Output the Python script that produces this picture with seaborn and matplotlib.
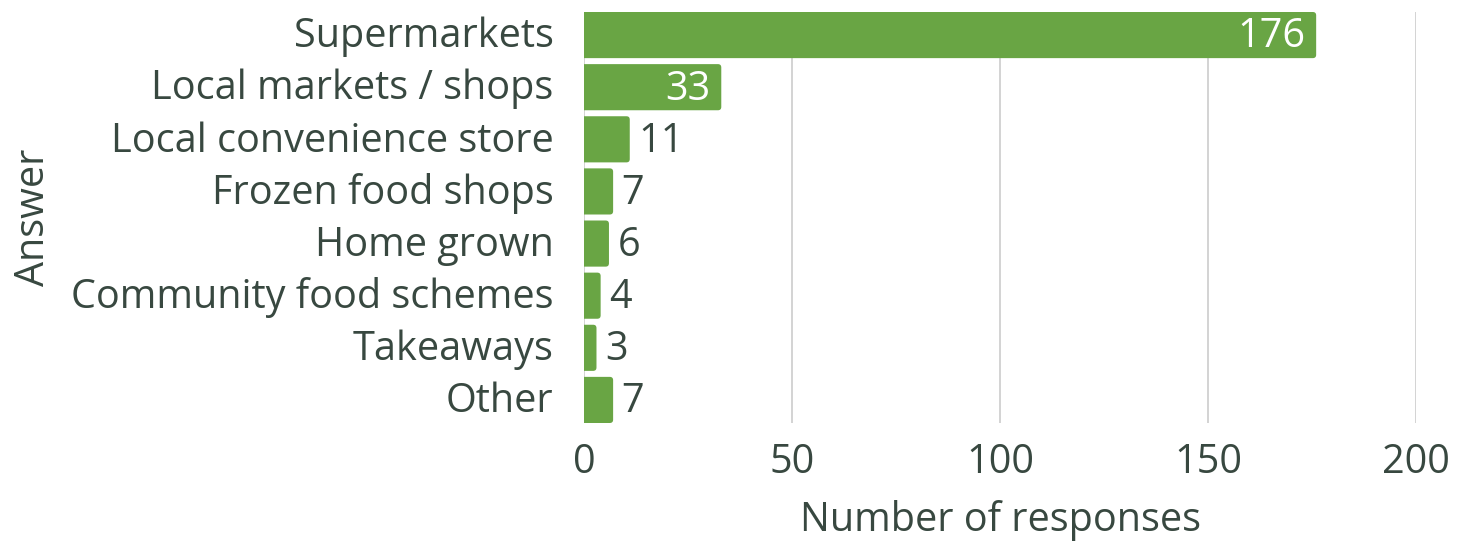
import matplotlib
matplotlib.use("Agg")
import matplotlib.pyplot as plt
import matplotlib.transforms as mtransforms
import seaborn as sns
import pandas as pd
from matplotlib.patches import FancyBboxPatch

categories = ["Supermarkets", "Local markets / shops", "Local convenience store",
              "Frozen food shops", "Home grown", "Community food schemes",
              "Takeaways", "Other"]
values = [176, 33, 11, 7, 6, 4, 3, 7]
xticks = [0, 50, 100, 150, 200]

df = pd.DataFrame({"Answer": categories, "Number of responses": values})

sns.set_theme(style="white")
plt.rcParams["font.family"] = ["Open Sans", "DejaVu Sans"]

TEXT = "#384840"
BAR = "#69a544"
FS = 28.5
BW = 0.885

fig = plt.figure(figsize=(14.64, 5.41), dpi=100)
ax = fig.add_axes([584/1464, 1 - 423/541, 832/1464, 411/541])

sns.barplot(data=df, y="Answer", x="Number of responses", orient="h",
            color=BAR, saturation=1, width=BW, ax=ax, zorder=3)

ax.set_xlim(0, 200)
ax.set_ylim(len(categories) - 1 + BW / 2, -BW / 2)

# rounded corners: rebuild each bar as a rounded box from the library's patch geometry
r = 0.8
asp = (832 / 200) / (411 / (ax.get_ylim()[0] - ax.get_ylim()[1]))
for p in list(ax.patches):
    x0, y0, w, h = p.get_x(), p.get_y(), p.get_width(), p.get_height()
    p.set_visible(False)
    fb = FancyBboxPatch((x0 - 2, y0), w + 2, h,
                        boxstyle=f"round,pad=0,rounding_size={r}",
                        mutation_aspect=asp, facecolor=BAR, edgecolor="none",
                        zorder=3, clip_on=True)
    ax.add_patch(fb)

for i, v in enumerate(values):
    if v > 20:
        ax.annotate(str(v), (v, i), xytext=(-8, -1.5), textcoords="offset points",
                    ha="right", va="center", color="white", fontsize=FS, zorder=4)
    else:
        ax.annotate(str(v), (v, i), xytext=(6, -1.5), textcoords="offset points",
                    ha="left", va="center", color=TEXT, fontsize=FS, zorder=4)

ax.set_xticks(xticks)
ax.set_xticklabels([str(t) for t in xticks])
ax.grid(axis="x", color="#cccccc", linewidth=1.2, zorder=0)
ax.grid(axis="y", visible=False)
for s in ax.spines.values():
    s.set_visible(False)

ax.tick_params(axis="y", length=0, pad=22, labelsize=FS, labelcolor=TEXT)
ax.tick_params(axis="x", length=0, pad=14, labelsize=FS, labelcolor=TEXT)
ax.set_xlabel("Number of responses", fontsize=FS, color=TEXT, labelpad=12)
ax.set_ylabel("Answer", fontsize=FS, color=TEXT, labelpad=12)

shift = mtransforms.ScaledTranslation(0, 3 / 100, fig.dpi_scale_trans)
for lab in ax.get_yticklabels():
    lab.set_transform(lab.get_transform() + shift)

fig.savefig("out.png", dpi=100)
